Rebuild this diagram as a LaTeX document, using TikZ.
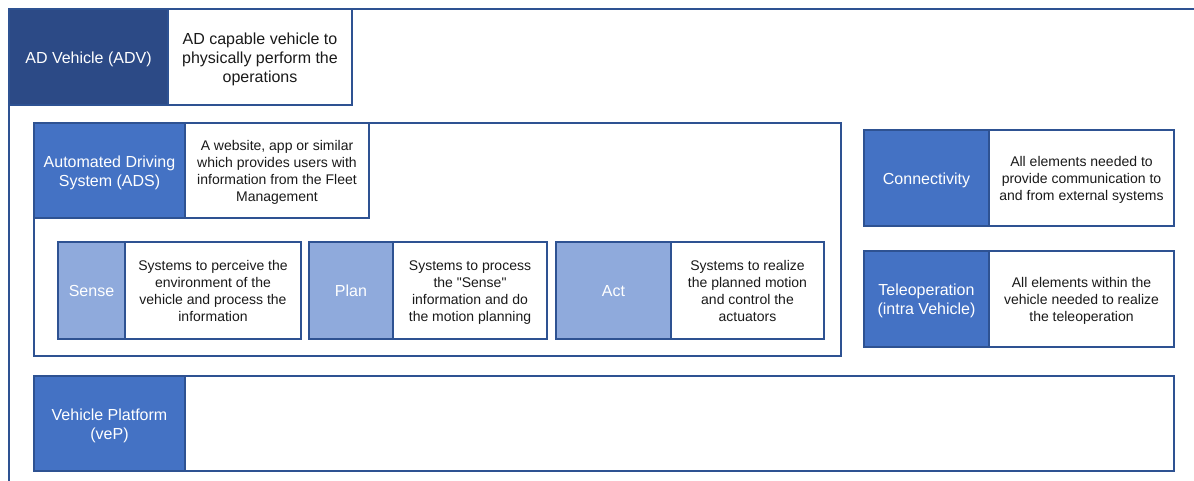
\documentclass[tikz,border=0pt]{standalone}
\usepackage{fontspec}
\setmainfont{Liberation Sans}[Ligatures=TeXOff]
% cell text: centred lines, set a little lower than the box centre
\newcommand\celltext[1]{\raisebox{-2.5pt}[\height][\depth]{\begin{tabular}{@{}c@{}}#1\end{tabular}}}
\begin{document}
\definecolor{edge}{HTML}{2E5292}
\definecolor{navy}{HTML}{2C4A86}
\definecolor{mid}{HTML}{4472C4}
\definecolor{pale}{HTML}{8FAADC}
\definecolor{ink}{HTML}{1A1A1A}
\begin{tikzpicture}[x=1pt,y=-1pt,
  frame/.style={draw=edge,line width=2pt},
  cell/.style={frame,rectangle,inner sep=0pt,align=center},
  hdrdark/.style={cell,fill=navy,text=white,font=\fontsize{16}{19}\selectfont},
  hdrmid/.style={cell,fill=mid,text=white,font=\fontsize{16}{19}\selectfont},
  hdrpale/.style={cell,fill=pale,text=white,font=\fontsize{16}{19}\selectfont},
  desc/.style={cell,fill=white,text=ink,font=\fontsize{14}{17}\selectfont},
  descbig/.style={cell,fill=white,text=ink,font=\fontsize{16}{19}\selectfont}]
\useasboundingbox (0,0) rectangle (1194,481);

% outer vehicle frame, open towards the right and bottom
\coordinate (fr) at (1196,9);
\coordinate (fc) at (9,9);
\coordinate (fb) at (9,483);
\draw[frame] (fr) -- (fc) -- (fb);

% AD vehicle header
\node[hdrdark,minimum width=159pt,minimum height=96pt] (adv) at (88.5,57)
  {\celltext{AD Vehicle (ADV)}};
\node[descbig,minimum width=184pt,minimum height=96pt] (advd) at (260,57)
  {\celltext{AD capable vehicle to\\physically perform the\\operations}};

% automated driving system container
\coordinate (adsa) at (34,123);
\coordinate (adsb) at (841,356);
\draw[frame] (adsa) rectangle (adsb);
\node[hdrmid,minimum width=151pt,minimum height=95pt] (ads) at (109.5,170.5)
  {\celltext{Automated Driving\\System (ADS)}};
\node[desc,minimum width=184pt,minimum height=95pt] (adsd) at (277,170.5)
  {\celltext{A website, app or similar\\which provides users with\\information from the Fleet\\Management}};

% sense / plan / act
\node[hdrpale,minimum width=67pt,minimum height=97pt] (sense) at (91.5,290.5)
  {\celltext{Sense}};
\node[desc,minimum width=176pt,minimum height=97pt] (sensed) at (213,290.5)
  {\celltext{Systems to perceive the\\environment of the\\vehicle and process the\\information}};
\node[hdrpale,minimum width=84pt,minimum height=97pt] (plan) at (351,290.5)
  {\celltext{Plan}};
\node[desc,minimum width=154pt,minimum height=97pt] (pland) at (470,290.5)
  {\celltext{Systems to process\\the "Sense"\\information and do\\the motion planning}};
\node[hdrpale,minimum width=115pt,minimum height=97pt] (act) at (613.5,290.5)
  {\celltext{Act}};
\node[desc,minimum width=153pt,minimum height=97pt] (actd) at (747.5,290.5)
  {\celltext{Systems to realize\\the planned motion\\and control the\\actuators}};

% connectivity and teleoperation
\node[hdrmid,minimum width=125pt,minimum height=96pt] (conn) at (926.5,178)
  {\celltext{Connectivity}};
\node[desc,minimum width=185pt,minimum height=96pt] (connd) at (1081.5,178)
  {\celltext{All elements needed to\\provide communication to\\and from external systems}};
\node[hdrmid,minimum width=125pt,minimum height=96pt] (tele) at (926.5,299)
  {\celltext{Teleoperation\\(intra Vehicle)}};
\node[desc,minimum width=185pt,minimum height=96pt] (teled) at (1081.5,299)
  {\celltext{All elements within the\\vehicle needed to realize\\the teleoperation}};

% vehicle platform
\node[hdrmid,minimum width=151pt,minimum height=95pt] (vep) at (109.5,423.5)
  {\celltext{Vehicle Platform\\(veP)}};
\node[desc,minimum width=989pt,minimum height=95pt] (vepd) at (679.5,423.5) {};
\end{tikzpicture}
\end{document}
